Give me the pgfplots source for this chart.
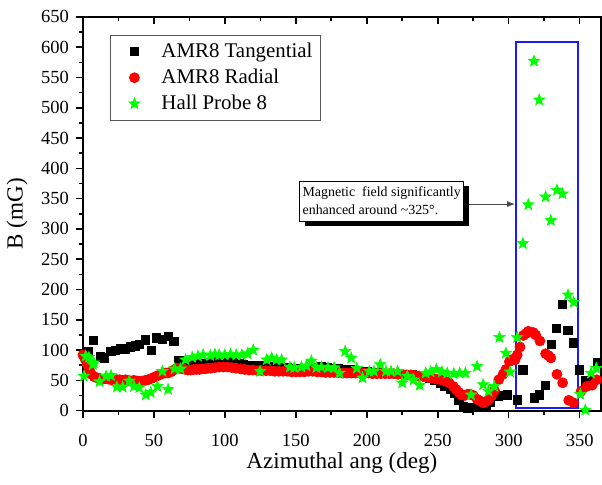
\documentclass[border=0pt]{standalone}
\usepackage{fontspec}
\setmainfont{Liberation Serif}
\usepackage{pgfplots}
\pgfplotsset{compat=1.18}
\usetikzlibrary{arrows.meta,shadows}
\definecolor{hallgreen}{HTML}{00FF00}
\definecolor{boxblue}{HTML}{1A1AFF}

% filled five-pointed star
\pgfdeclareplotmark{fstar}{%
  \pgfpathmoveto{\pgfpointpolar{90}{\pgfplotmarksize}}%
  \pgfpathlineto{\pgfpointpolar{126}{0.42\pgfplotmarksize}}%
  \pgfpathlineto{\pgfpointpolar{162}{\pgfplotmarksize}}%
  \pgfpathlineto{\pgfpointpolar{198}{0.42\pgfplotmarksize}}%
  \pgfpathlineto{\pgfpointpolar{234}{\pgfplotmarksize}}%
  \pgfpathlineto{\pgfpointpolar{270}{0.42\pgfplotmarksize}}%
  \pgfpathlineto{\pgfpointpolar{306}{\pgfplotmarksize}}%
  \pgfpathlineto{\pgfpointpolar{342}{0.42\pgfplotmarksize}}%
  \pgfpathlineto{\pgfpointpolar{18}{\pgfplotmarksize}}%
  \pgfpathlineto{\pgfpointpolar{54}{0.42\pgfplotmarksize}}%
  \pgfpathclose
  \pgfusepathqfillstroke
}

\begin{document}
\begin{tikzpicture}
\begin{axis}[
    scale only axis,
    width=260.5pt, height=198pt,
    xmin=0, xmax=365,
    ymin=0, ymax=650,
    xtick={0,50,...,350},
    ytick={0,50,...,650},
    minor tick num=1,
    tick align=outside,
    xtick pos=bottom, ytick pos=left,
    major tick length=3.5pt, minor tick length=2pt,
    every tick/.style={black, line width=0.8pt},
    axis line style={line width=1pt},
    tick label style={font=\fontsize{9.3}{10}\selectfont},
    xticklabel style={yshift=-5pt},
    /pgf/number format/assume math mode=true,
    xlabel={Azimuthal ang (deg)},
    ylabel={B (mG)},
    label style={font=\fontsize{11.6}{13}\selectfont},
    xlabel style={yshift=4pt},
    clip=false,
    legend style={at={(0.052,0.955)}, anchor=north west, draw=gray!70!black, line width=0.4pt,
        font=\fontsize{10.5}{12.5}\selectfont, inner sep=2pt, row sep=0.3pt, fill=white},
    legend cell align=left,
    legend image code/.code={\path (0cm,0cm) (0.75cm,0cm); \draw[#1] plot coordinates {(0.35cm,0cm)};},
]
% AMR8 Tangential
\addplot[only marks, mark=square*, mark size=2.1pt, black] coordinates {
(3.5,97) (7.5,116) (12.4,89) (15.2,87) (19.8,98) (23,99) (26.8,102) (30,102) (33.6,105) (37,107)
(39.6,109) (43.9,117) (48.3,99) (51.8,120) (56,118) (60,123) (64,114) (67.7,83) (71,78) (74,77)
(77,76) (80,77) (83,77) (86,78) (89,79) (92,80) (95,82) (98,82) (101,82) (104,81) (107,80) (110,78)
(113,76) (116,75) (120,75) (124,74) (128,73) (132,72) (136,72) (140,71) (144,71) (148,70) (152,70)
(156,70) (160,70) (164,71) (168,72) (172,71) (176,70) (180,69) (184,68) (188,67) (192,66) (196,65)
(200,64) (204,63) (208,63) (212,62) (216,62) (220,61) (224,60) (228,60) (232,59) (236,58) (240,56)
(244,54) (248,50) (252,45) (255,40) (259,35) (262,28) (265,18) (268,6) (271,4) (274,5) (281,6)
(284,8) (287,14) (292.7,24) (296,25) (299,26) (306,18) (310,67) (318,21) (321.5,26) (326,42)
(330,109) (333.6,136) (337.9,175) (341.8,132) (345.8,112) (350,67) (354,49) (358,49) (362.8,79)
};
% AMR8 Radial
\addplot[only marks, mark=*, mark size=2.5pt, red] coordinates {
(0,92) (1.5,85) (3,77) (4.5,68) (6,60) (8,56) (10,54) (12,53) (14,52) (16,53) (18,52) (20,51)
(22,52) (24,51) (26,51) (28,50) (30,51) (32,50) (34,49) (36,50) (38,49) (40,48) (42,49) (44,50)
(46,51) (48,53) (50,55) (52,57) (54,59) (56,61) (58,62) (60,62) (62,64) (64,67) (66,70) (68,70)
(70,69) (72,68) (74,67) (76,67) (78,68) (80,68) (82,68) (84,69) (86,69) (88,70) (90,70) (93,71)
(96,72) (99,72) (102,72) (105,71) (108,70) (111,69) (114,68) (117,67) (120,67) (123,66) (126,66)
(129,66) (132,66) (135,65) (138,65) (141,65) (144,65) (147,64) (150,64) (153,64) (156,64) (159,65)
(162,65) (165,64) (168,64) (171,63) (174,63) (177,63) (180,63) (183,62) (186,62) (189,62) (192,62)
(195,62) (198,62) (201,62) (204,61) (207,61) (210,61) (213,61) (216,61) (219,61) (222,60) (225,60)
(228,59) (231,59) (234,58) (237,57) (240,56) (243,55) (246,54) (249,52) (252,51) (255,49) (258,46)
(261,40) (263,35) (265,30) (267,26) (269,25) (271,27) (273,27) (275,25) (277.7,19) (280,16)
(282,13) (284,15) (286,18) (288,25) (290,33) (293,51) (296,60) (298,68) (300.5,81) (302,84)
(304.5,84) (306,92) (308,105) (310.3,124) (312,127) (313.8,131) (317.3,129) (319,125) (322,115)
(326,94) (328,91) (329.7,87) (334,60) (338,46) (342.3,17) (345.8,13) (351,32) (355,40) (358.8,42)
(362,51)
};
% Hall Probe 8
\addplot[only marks, mark=fstar, mark size=3pt, hallgreen, mark options={line width=0.3pt}] coordinates {
(0.7,57) (2,90) (4.2,88) (7,76) (7.7,79) (11.7,48) (16.3,57) (19.8,58) (24,39) (28,39) (32.7,49)
(36,40) (39.7,38) (44.3,26) (47.8,30) (52.5,40) (56,65) (60,35) (64.6,69) (68.8,69) (72.3,84)
(77,88) (81,90) (84.7,92) (89.8,91) (93,93) (96,92) (100,92) (104,93) (108,92) (112,92) (116,94)
(120,100) (124.8,65) (129.5,84) (133,87) (136.5,84) (140,84) (145.8,72) (149,71) (154,72)
(157.5,74) (161,82) (164.5,71) (168,72) (172.7,71) (177,71) (180.8,62) (184.8,98) (189,87)
(193,70) (197,54) (201.8,65) (205,65) (209.5,76) (213.5,65) (217,65) (221.7,65) (225,46)
(228.6,57) (233,51) (237.3,42) (241.5,62) (245,64) (249,68) (253,64) (256.7,62) (261.3,61)
(265.5,62) (269.5,62) (273.5,26) (277.7,73) (282,43) (285.8,32) (289.8,40) (293.5,121) (298,95)
(301,64) (306,121) (310,276) (313.8,340) (317.8,577) (321.5,513) (326,353) (329.7,314) (334,364)
(337.9,358) (341.8,191) (345.8,179) (350.5,27) (354,1) (358,62) (361.7,70)
};
\legend{AMR8 Tangential, AMR8 Radial, Hall Probe 8}

\draw[boxblue, line width=1pt] (axis cs:305.2,5) rectangle (axis cs:348.6,608);
\draw[-{Latex[length=4pt,width=3pt]}, line width=0.4pt, black!70] (axis cs:268,341) -- (axis cs:304.5,341);
\node[draw=black, line width=0.4pt, fill=white, align=left, inner sep=1.5pt,
      minimum width=82pt, minimum height=20pt,
      drop shadow={shadow xshift=2.5pt, shadow yshift=-2.5pt, fill=black, opacity=1},
      font=\fontsize{7}{9}\selectfont] at (axis cs:210.5,346)
      {Magnetic\ \ field significantly\\ enhanced around \textasciitilde325°.};
\end{axis}
\begin{axis}[
    scale only axis,
    width=260.5pt, height=198pt,
    xmin=0, xmax=365, ymin=0, ymax=650,
    axis x line*=top, axis y line=none,
    xtick={0,50,...,350}, minor tick num=1,
    xticklabels={},
    tick align=inside,
    major tick length=3.5pt, minor tick length=2pt,
    every tick/.style={black, line width=0.8pt},
    axis line style={line width=1pt},
]
\end{axis}
\path ([xshift=-40pt,yshift=-37pt]current axis.south west) rectangle ([xshift=0.5pt,yshift=8.5pt]current axis.north east);
\end{tikzpicture}
\end{document}
